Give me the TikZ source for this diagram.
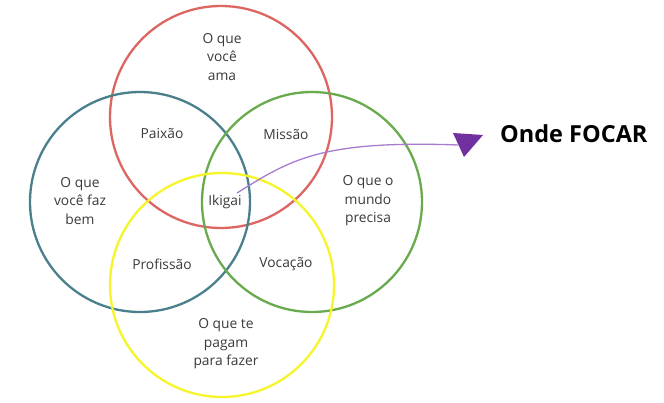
\documentclass[tikz,border=0pt]{standalone}
\usepackage{fontspec}
\setmainfont{Open Sans}
\definecolor{cred}{HTML}{DD6663}
\definecolor{cblue}{HTML}{4A7F8C}
\definecolor{cgreen}{HTML}{6AAA4E}
\definecolor{cyellow}{HTML}{F5F52A}
\definecolor{txt}{HTML}{3A3A3A}
\definecolor{arrline}{HTML}{A77BCF}
\definecolor{arrtip}{HTML}{7030A0}
\begin{document}
\begin{tikzpicture}[x=1pt,y=-1pt,
  ring/.style={circle,draw,line width=2.3pt,inner sep=0pt},
  lbl/.style={text=txt,font=\fontsize{13.8}{18.5}\selectfont,align=center,inner sep=1pt}]
\useasboundingbox (0,0) rectangle (664,403);
\fill[white] (0,0) rectangle (664,403);
\node[ring,draw=cred,minimum size=222pt] (love) at (221,117) {};
\node[ring,draw=cblue,minimum size=220pt] (good) at (140,202) {};
\node[ring,draw=cgreen,minimum size=220pt] (world) at (312,202) {};
\node[ring,draw=cyellow,minimum size=224pt] (paid) at (222,285) {};

\node[lbl] (tlove) at (222,57) {O que\\você\\ama};
\node[lbl] (tpaix) at (162,134) {Paixão};
\node[lbl] (tmiss) at (286,135) {Missão};
\node[lbl] (tgood) at (80,201) {O que\\você faz\\bem};
\node[lbl] (tiki) at (225,202) {Ikigai};
\node[lbl] (tworld) at (368,201) {O que o\\mundo\\precisa};
\node[lbl] (tprof) at (162,264) {Profissão};
\node[lbl] (tvoc) at (286,264) {Vocação};
\node[lbl] (tpaid) at (226,344) {O que te\\pagam\\para fazer};
\node[font=\fontsize{23.5}{26}\selectfont\bfseries,text=black,anchor=west,inner sep=0pt] (focar) at (500,134) {Onde FOCAR};

\coordinate (start) at (237,193);
\coordinate (tipbase) at (458,145);
\draw[arrline,line width=1.3pt] (start) .. controls (290,160) and (320,140) .. (tipbase);
\fill[arrtip] (453,133) -- (483,135) -- (464,157) -- cycle;
\end{tikzpicture}
\end{document}
